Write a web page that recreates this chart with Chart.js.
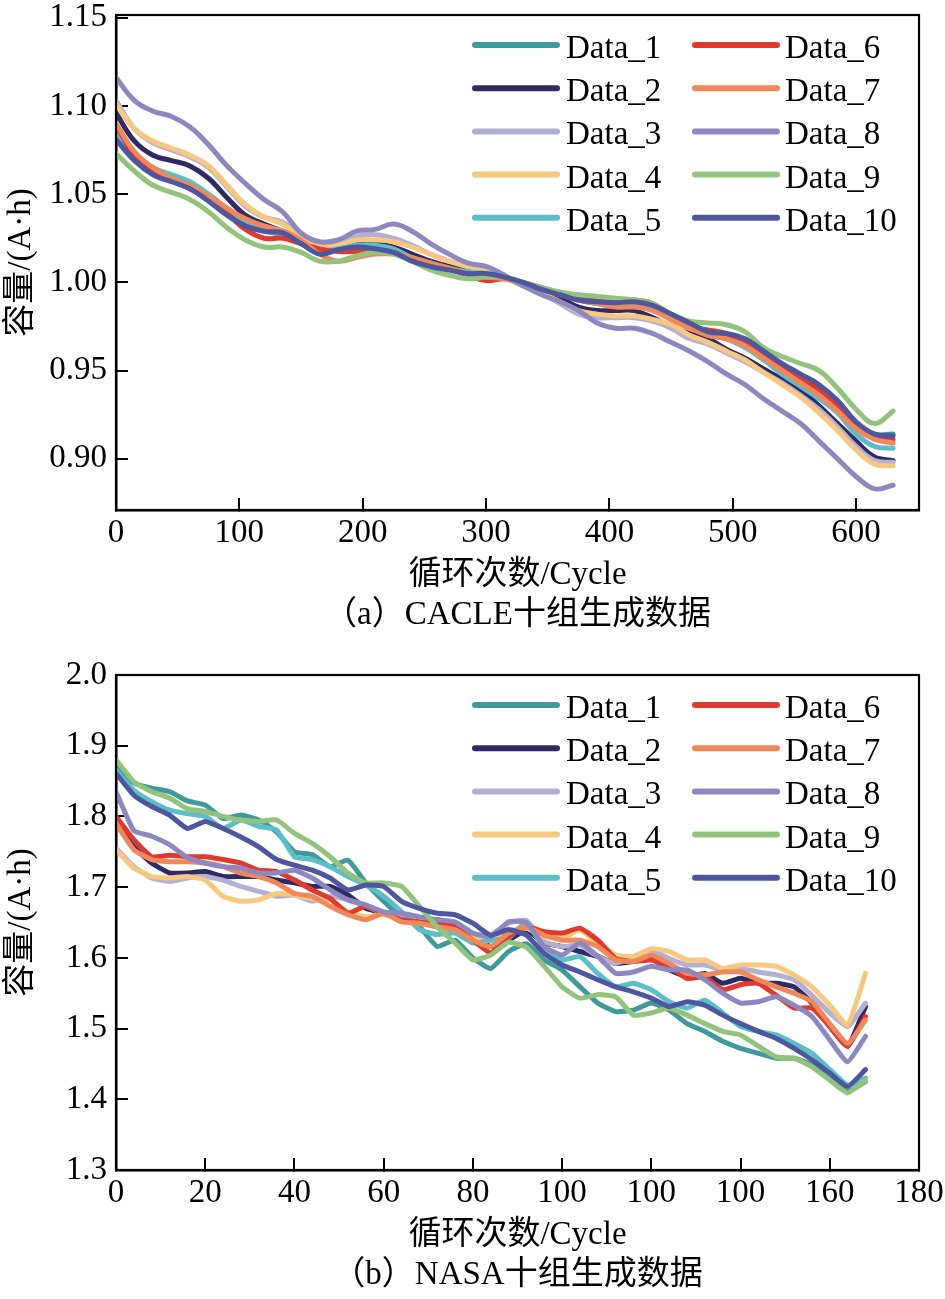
<!DOCTYPE html>
<html><head><meta charset="utf-8">
<script src="https://cdn.jsdelivr.net/npm/chart.js@4.4.1/dist/chart.umd.min.js"></script>
<style>
html,body{margin:0;padding:0;background:#fff;width:945px;height:1299px;overflow:hidden;}
.box{position:absolute;left:0;width:945px;height:639px;}
</style></head><body>
<div class="box" style="top:0"><canvas id="c1" width="945" height="639"></canvas></div>
<div class="box" style="top:660px"><canvas id="c2" width="945" height="639"></canvas></div>
<script>
// ---------- data: panel (a) CACLE ----------
const seriesNames = ['Data_1','Data_2','Data_3','Data_4','Data_5','Data_6','Data_7','Data_8','Data_9','Data_10'];
const cyclesA = [0,15,30,45,60,75,90,105,120,135,150,165,180,195,210,225,240,255,270,285,300,315,330,345,360,375,390,405,420,435,450,465,480,495,510,525,540,555,570,585,600,615,630];
const a1 = [1.083,1.070,1.062,1.058,1.054,1.047,1.039,1.032,1.029,1.027,1.023,1.017,1.019,1.021,1.020,1.018,1.014,1.010,1.008,1.006,1.005,1.003,0.999,0.996,0.993,0.990,0.988,0.988,0.988,0.986,0.981,0.976,0.971,0.969,0.965,0.958,0.951,0.945,0.939,0.930,0.920,0.914,0.914];
const a2 = [1.096,1.080,1.072,1.069,1.066,1.059,1.048,1.038,1.033,1.029,1.025,1.021,1.0195,1.022,1.022,1.020,1.016,1.012,1.009,1.007,1.006,1.003,0.999,0.995,0.991,0.986,0.984,0.984,0.984,0.980,0.975,0.971,0.968,0.962,0.957,0.951,0.945,0.939,0.930,0.920,0.910,0.901,0.899];
const a3 = [1.103,1.087,1.079,1.075,1.071,1.065,1.054,1.043,1.037,1.034,1.027,1.022,1.021,1.026,1.027,1.025,1.021,1.016,1.012,1.009,1.007,1.003,0.998,0.994,0.988,0.982,0.980,0.980,0.980,0.978,0.974,0.968,0.965,0.960,0.955,0.949,0.943,0.936,0.928,0.918,0.907,0.899,0.898];
const a4 = [1.101,1.087,1.080,1.076,1.072,1.066,1.055,1.044,1.037,1.033,1.026,1.021,1.021,1.024,1.024,1.023,1.020,1.016,1.012,1.009,1.007,1.003,0.998,0.994,0.989,0.984,0.982,0.981,0.981,0.979,0.976,0.970,0.966,0.961,0.956,0.949,0.942,0.935,0.926,0.916,0.905,0.897,0.896];
const a5 = [1.085,1.071,1.065,1.061,1.057,1.050,1.042,1.035,1.030,1.027,1.022,1.018,1.019,1.021,1.021,1.019,1.014,1.011,1.008,1.006,1.005,1.003,0.999,0.996,0.993,0.990,0.988,0.987,0.987,0.985,0.980,0.975,0.970,0.968,0.963,0.956,0.948,0.941,0.934,0.926,0.914,0.907,0.906];
const a6 = [1.089,1.072,1.063,1.058,1.053,1.047,1.039,1.030,1.025,1.025,1.022,1.019,1.0175,1.0175,1.018,1.017,1.013,1.010,1.008,1.004,1.001,1.002,1.000,0.997,0.994,0.991,0.990,0.989,0.990,0.988,0.981,0.975,0.973,0.971,0.966,0.958,0.951,0.945,0.939,0.930,0.920,0.912,0.911];
const a7 = [1.090,1.074,1.065,1.059,1.055,1.049,1.042,1.036,1.032,1.029,1.024,1.016,1.012,1.014,1.016,1.016,1.014,1.011,1.008,1.005,1.003,1.002,0.999,0.996,0.993,0.990,0.988,0.986,0.986,0.984,0.979,0.974,0.970,0.968,0.964,0.957,0.950,0.943,0.936,0.927,0.917,0.911,0.909];
const a8 = [1.116,1.103,1.097,1.094,1.088,1.078,1.066,1.056,1.047,1.040,1.028,1.023,1.024,1.029,1.030,1.033,1.029,1.022,1.016,1.011,1.009,1.004,0.998,0.993,0.989,0.984,0.977,0.974,0.974,0.971,0.966,0.961,0.955,0.948,0.942,0.934,0.927,0.920,0.910,0.900,0.890,0.883,0.885];
const a9 = [1.073,1.063,1.055,1.051,1.047,1.040,1.031,1.024,1.020,1.020,1.017,1.012,1.012,1.015,1.017,1.016,1.012,1.007,1.004,1.002,1.003,1.003,1.000,0.997,0.9945,0.993,0.992,0.991,0.990,0.988,0.982,0.978,0.977,0.976,0.972,0.963,0.958,0.954,0.950,0.940,0.928,0.920,0.927];
const a10 = [1.081,1.069,1.061,1.057,1.053,1.046,1.038,1.032,1.029,1.028,1.022,1.016,1.0185,1.020,1.019,1.017,1.012,1.009,1.007,1.005,1.005,1.003,1.000,0.996,0.993,0.990,0.989,0.9885,0.989,0.987,0.982,0.977,0.972,0.971,0.968,0.961,0.954,0.948,0.942,0.933,0.921,0.914,0.913];
const xTicksA = [0,100,200,300,400,500,600];
const xTickLabelsA = ['0','100','200','300','400','500','600'];
const yTicksA = [0.90,0.95,1.00,1.05,1.10,1.15];
const yTickLabelsA = ['0.90','0.95','1.00','1.05','1.10','1.15'];

// ---------- data: panel (b) NASA ----------
const cyclesB = [0,4,8,12,16,20,24,28,32,36,40,44,48,52,56,60,64,68,72,76,80,84,88,92,96,100,104,108,112,116,120,124,128,132,136,140,144,148,152,156,160,164,168];
const b1 = [1.870,1.847,1.840,1.835,1.822,1.816,1.797,1.802,1.795,1.778,1.750,1.746,1.729,1.738,1.706,1.680,1.658,1.644,1.616,1.625,1.600,1.585,1.609,1.620,1.597,1.583,1.559,1.536,1.524,1.526,1.536,1.526,1.507,1.496,1.482,1.472,1.465,1.458,1.458,1.449,1.430,1.411,1.425];
const b2 = [1.795,1.757,1.734,1.720,1.720,1.722,1.715,1.715,1.715,1.710,1.706,1.701,1.701,1.689,1.670,1.663,1.656,1.649,1.654,1.644,1.630,1.616,1.625,1.639,1.621,1.616,1.609,1.602,1.592,1.595,1.599,1.583,1.573,1.578,1.564,1.571,1.564,1.564,1.559,1.536,1.503,1.475,1.531];
const b3 = [1.755,1.729,1.713,1.708,1.713,1.715,1.710,1.701,1.694,1.687,1.689,1.680,1.687,1.682,1.673,1.663,1.658,1.649,1.647,1.644,1.633,1.633,1.649,1.653,1.623,1.616,1.618,1.602,1.592,1.602,1.611,1.599,1.590,1.590,1.583,1.585,1.580,1.576,1.569,1.547,1.522,1.503,1.536];
const b4 = [1.753,1.727,1.715,1.713,1.715,1.710,1.687,1.680,1.682,1.691,1.689,1.684,1.682,1.665,1.658,1.661,1.654,1.649,1.644,1.640,1.630,1.625,1.635,1.642,1.630,1.628,1.639,1.621,1.604,1.602,1.613,1.609,1.597,1.597,1.585,1.590,1.590,1.588,1.576,1.559,1.533,1.505,1.578];
const b5 = [1.865,1.837,1.821,1.809,1.804,1.800,1.783,1.795,1.786,1.781,1.743,1.739,1.729,1.715,1.703,1.687,1.665,1.640,1.633,1.635,1.621,1.625,1.628,1.650,1.613,1.597,1.602,1.578,1.559,1.564,1.555,1.538,1.529,1.540,1.522,1.503,1.496,1.491,1.479,1.465,1.442,1.420,1.430];
const b6 = [1.800,1.767,1.743,1.745,1.743,1.743,1.739,1.734,1.724,1.722,1.710,1.696,1.684,1.663,1.673,1.663,1.654,1.651,1.649,1.644,1.625,1.607,1.630,1.644,1.637,1.635,1.642,1.625,1.599,1.595,1.597,1.588,1.571,1.573,1.555,1.562,1.564,1.547,1.529,1.529,1.503,1.475,1.517];
const b7 = [1.790,1.753,1.739,1.736,1.736,1.734,1.729,1.720,1.715,1.706,1.691,1.687,1.673,1.661,1.654,1.663,1.651,1.649,1.644,1.640,1.625,1.616,1.635,1.644,1.632,1.625,1.625,1.616,1.597,1.595,1.604,1.592,1.578,1.576,1.580,1.580,1.569,1.559,1.550,1.538,1.507,1.479,1.512];
const b8 = [1.835,1.780,1.772,1.760,1.742,1.734,1.729,1.727,1.720,1.720,1.724,1.713,1.696,1.682,1.675,1.665,1.663,1.658,1.654,1.651,1.635,1.630,1.651,1.650,1.616,1.604,1.621,1.602,1.578,1.580,1.588,1.583,1.583,1.569,1.550,1.536,1.538,1.545,1.533,1.517,1.484,1.453,1.489];
const b9 = [1.880,1.849,1.835,1.826,1.811,1.807,1.800,1.795,1.793,1.795,1.776,1.762,1.743,1.720,1.706,1.706,1.701,1.673,1.644,1.621,1.597,1.604,1.622,1.615,1.588,1.559,1.543,1.548,1.545,1.519,1.522,1.529,1.519,1.507,1.496,1.491,1.475,1.460,1.458,1.446,1.427,1.409,1.427];
const b10 = [1.861,1.830,1.814,1.802,1.783,1.793,1.783,1.771,1.757,1.739,1.731,1.724,1.713,1.696,1.703,1.701,1.680,1.670,1.663,1.661,1.649,1.632,1.640,1.632,1.606,1.590,1.580,1.569,1.559,1.552,1.543,1.531,1.538,1.533,1.519,1.507,1.496,1.486,1.472,1.456,1.437,1.418,1.442];
const xTicksB = [0,20,40,60,80,100,120,140,160,180];
const xTickLabelsB = ['0','20','40','60','80','100','100','100','160','180'];
const yTicksB = [1.3,1.4,1.5,1.6,1.7,1.8,1.9,2.0];
const yTickLabelsB = ['1.3','1.4','1.5','1.6','1.7','1.8','1.9','2.0'];

const yTitle = '容量/(A·h)';
const xTitle = '循环次数/Cycle';
const captionA = '（a）CACLE十组生成数据';
const captionB = '（b）NASA十组生成数据';

// ---------- styles ----------
const lineColors = ['#3f9a9c','#2f2a63','#b4b0d2','#f8c880','#5cbec8','#e0392d','#f0885b','#8d88bf','#93c47d','#4f56a0'];
const SERIF = "'Liberation Serif', 'Noto Sans CJK SC', serif";

const framePlugin = {
  id: 'frame',
  afterDatasetsDraw(chart) {
    const {ctx, chartArea: a} = chart;
    ctx.save();
    ctx.strokeStyle = '#000';
    ctx.lineWidth = 2.2;
    ctx.strokeRect(a.left, a.top, a.right - a.left, a.bottom - a.top);
    ctx.restore();
  }
};
const legendPlugin = {
  id: 'twoColLegend',
  afterDraw(chart) {
    const {ctx, chartArea: a} = chart;
    ctx.save();
    ctx.font = '33px ' + SERIF;
    ctx.fillStyle = '#000';
    ctx.textAlign = 'left';
    ctx.textBaseline = 'alphabetic';
    chart.data.datasets.forEach((ds, i) => {
      const col = Math.floor(i / 5), row = i % 5;
      const y = a.top + 30 + row * 43.2;
      const x0 = a.left + 359 + col * 220;
      ctx.strokeStyle = ds.borderColor;
      ctx.lineWidth = 6;
      ctx.lineCap = 'round';
      ctx.beginPath(); ctx.moveTo(x0, y); ctx.lineTo(x0 + 82, y); ctx.stroke();
      ctx.fillText(ds.label, a.left + 450 + col * 219, y + 13);
    });
    ctx.restore();
  }
};

function makeChart(id, cycles, series, xMax, yMin, yMax, xTicks, xLabels, yTicks, yLabels, caption, tension) {
  const datasets = series.map((vals, i) => ({
    label: seriesNames[i],
    data: cycles.map((c, k) => ({x: c, y: vals[k]})),
    borderColor: lineColors[i],
    backgroundColor: lineColors[i],
    borderWidth: 5,
    pointRadius: 0,
    tension: tension,
    borderJoinStyle: 'round',
    borderCapStyle: 'round',
    fill: false,
    order: series.length - i
  }));
  return new Chart(document.getElementById(id), {
    type: 'line',
    data: {datasets},
    options: {
      responsive: false,
      animation: false,
      devicePixelRatio: 1,
      layout: {padding: {top: 15, right: 26, left: 0, bottom: 4}},
      plugins: {
        legend: {display: false},
        tooltip: {enabled: false},
        title: {display: true, position: 'bottom', fullSize: false, text: caption, color: '#000',
                font: {family: SERIF, size: 33, weight: 'normal', lineHeight: 1.2}, padding: 0}
      },
      scales: {
        x: {
          type: 'linear', min: 0, max: xMax,
          afterBuildTicks: s => { s.ticks = xTicks.map(v => ({value: v})); },
          afterFit: s => { s.height = 85.4; s.paddingLeft = 0; s.paddingRight = 0; s.paddingTop = 0; s.paddingBottom = 0; },
          grid: {drawOnChartArea: false, drawTicks: true, tickLength: -12, color: '#000', lineWidth: 2},
          border: {display: true, color: '#000', width: 2.5},
          ticks: {padding: 19, color: '#000', autoSkip: false, maxRotation: 0,
                  font: {family: SERIF, size: 33, lineHeight: 1},
                  callback: (v, i) => xLabels[i]},
          title: {display: true, text: xTitle, color: '#000',
                  font: {family: SERIF, size: 33, lineHeight: 1.2}, padding: {top: 0, bottom: 0}}
        },
        y: {
          type: 'linear', min: yMin, max: yMax,
          afterBuildTicks: s => { s.ticks = yTicks.map(v => ({value: v})); },
          afterFit: s => { s.width = 116; s.paddingLeft = 0; s.paddingRight = 0; s.paddingTop = 0; s.paddingBottom = 0; },
          grid: {drawOnChartArea: false, drawTicks: true, tickLength: -12, color: '#000', lineWidth: 2},
          border: {display: true, color: '#000', width: 2.5},
          ticks: {padding: 21, color: '#000', autoSkip: false,
                  font: {family: SERIF, size: 33, lineHeight: 0.9},
                  callback: (v, i) => yLabels[i]},
          title: {display: true, text: yTitle, color: '#000',
                  font: {family: SERIF, size: 33, lineHeight: 1.2}, padding: {top: 2, bottom: 0}}
        }
      }
    },
    plugins: [framePlugin, legendPlugin]
  });
}

makeChart('c1', cyclesA, [a1,a2,a3,a4,a5,a6,a7,a8,a9,a10], 651, 0.871, 1.1515,
          xTicksA, xTickLabelsA, yTicksA, yTickLabelsA, captionA, 0.4);
makeChart('c2', cyclesB, [b1,b2,b3,b4,b5,b6,b7,b8,b9,b10], 180, 1.3, 2.0,
          xTicksB, xTickLabelsB, yTicksB, yTickLabelsB, captionB, 0.15);
</script>
</body></html>
